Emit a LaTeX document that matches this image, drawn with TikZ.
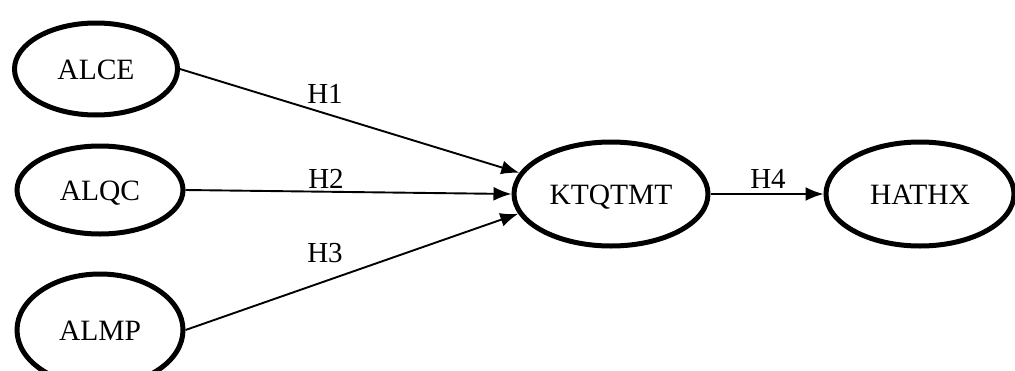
\documentclass[tikz,border=0pt]{standalone}
\usepackage{fontspec}
\setmainfont{Liberation Serif}
\usetikzlibrary{arrows.meta,shapes.geometric}
\begin{document}
\begin{tikzpicture}[x=1pt,y=-1pt,
  var/.style={ellipse,draw,line width=5pt,inner sep=0pt,text height=20pt,text depth=0pt,
    font=\fontsize{29.5}{33}\selectfont},
  hyp/.style={inner sep=0pt,text height=20pt,text depth=0pt,font=\fontsize{29}{33}\selectfont},
  path/.style={line width=1.9pt,-{Latex[length=18pt,width=14pt]}}]
\useasboundingbox (0,0) rectangle (1015,370);
\clip (0,0) rectangle (1015,370);
\node[var,minimum width=163pt,minimum height=92pt] (alce) at (96,69) {ALCE};
\node[var,minimum width=166pt,minimum height=88pt] (alqc) at (100,190) {ALQC};
\node[var,minimum width=166pt,minimum height=112pt] (almp) at (100,330) {ALMP};
\node[var,minimum width=194pt,minimum height=104pt] (ktq) at (611,194) {KTQTMT};
\node[var,minimum width=188pt,minimum height=104pt] (hathx) at (920,194) {HATHX};
\draw[path] (alce.east) -- (ktq.167);
\draw[path] (alqc.east) -- (ktq.west);
\draw[path] (almp.east) -- (ktq.192);
\draw[path] (ktq.east) -- (hathx.west);
\node[hyp] (h1) at (325,93) {H1};
\node[hyp] (h2) at (326,178) {H2};
\node[hyp] (h3) at (325,252) {H3};
\node[hyp] (h4) at (768,178) {H4};
\end{tikzpicture}
\end{document}
